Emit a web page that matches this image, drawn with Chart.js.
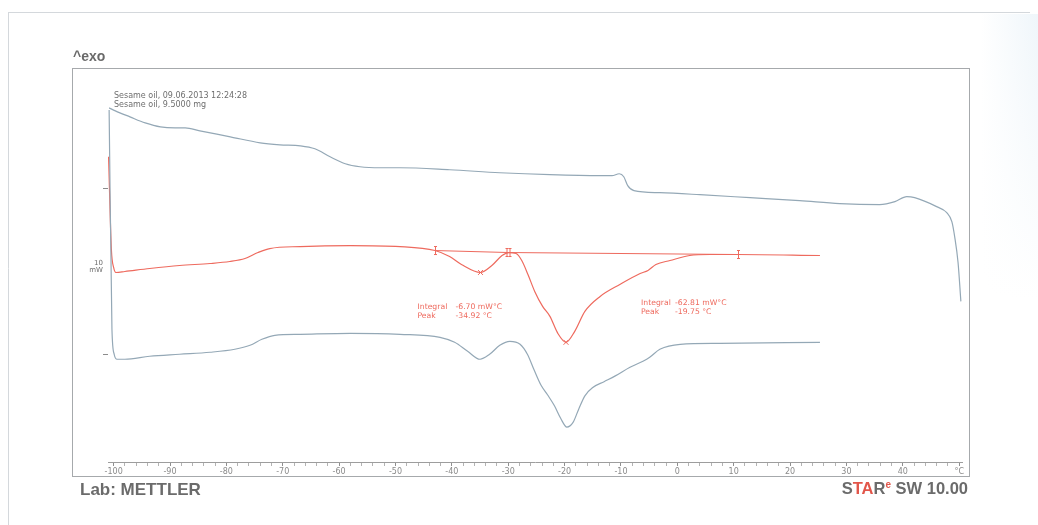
<!DOCTYPE html>
<html>
<head>
<meta charset="utf-8">
<script src="https://cdn.jsdelivr.net/npm/chart.js@4.4.1/dist/chart.umd.min.js"></script>
<style>
  html, body { margin: 0; padding: 0; background: #ffffff; overflow: hidden; }
  canvas { display: block; }
</style>
</head>
<body>
<canvas id="dsc" width="1038" height="525"></canvas>
<script>
// DSC run of sesame oil: temperature in °C, heat flow in mW (curves offset for display)

// upper trace
const upperTemp = [-100.8, -99.7, -97.1, -94.4, -91.7, -89.1, -87.3, -84.7, -79.3, -74.0, -70.5, -66.9, -64.3, -61.6, -58.9, -56.3, -52.7, -49.2, -40.4, -31.5, -22.6, -13.7, -11.6, -10.3, -9.5, -8.8, -7.7, -3.1, 4.0, 12.9, 21.7, 28.8, 35.9, 38.6, 40.7, 42.1, 46.0, 47.8, 48.7, 49.2, 49.8, 50.3];
const upperFlow = [21.42, 21.24, 20.88, 20.52, 20.28, 20.22, 20.22, 20.04, 19.68, 19.32, 19.2, 19.14, 18.96, 18.48, 18.06, 17.88, 17.82, 17.82, 17.7, 17.52, 17.4, 17.34, 17.34, 17.46, 17.28, 16.74, 16.44, 16.32, 16.2, 16.02, 15.84, 15.66, 15.6, 15.78, 16.08, 16.02, 15.48, 15.12, 14.58, 13.68, 12.12, 9.78];

// evaluated trace (red)
const evalTemp = [-100.9, -100.4, -100.0, -99.6, -98.0, -93.6, -88.3, -82.9, -79.4, -76.7, -74.4, -72.3, -66.9, -58.0, -49.2, -43.0, -40.4, -38.3, -34.92, -32.9, -31.1, -29.9, -28.6, -27.6, -26.5, -25.3, -23.9, -22.6, -21.2, -19.75, -18.2, -16.4, -13.7, -10.2, -6.6, -5.2, -3.8, -1.3, 2.2, 5.8, 10.7, 25.3];
const evalFlow = [18.48, 12.9, 11.82, 11.52, 11.58, 11.76, 11.94, 12.06, 12.18, 12.36, 12.72, 12.96, 13.08, 13.14, 13.08, 12.84, 12.48, 12.0, 11.52, 11.94, 12.54, 12.72, 12.66, 12.24, 11.4, 10.38, 9.48, 8.88, 7.86, 7.32, 7.98, 9.18, 10.08, 10.8, 11.46, 11.64, 12.0, 12.24, 12.54, 12.6, 12.6, 12.54];

// lower trace
const lowerTemp = [-100.8, -100.3, -99.9, -99.4, -98.0, -93.6, -88.3, -82.9, -78.5, -75.8, -73.7, -71.4, -66.9, -58.0, -49.2, -42.1, -39.5, -37.2, -35.0, -33.3, -31.5, -29.7, -27.9, -26.6, -25.4, -24.2, -23.0, -21.8, -20.7, -19.6, -18.5, -17.5, -16.4, -15.0, -13.0, -11.0, -8.4, -6.1, -4.9, -3.1, 0.5, 7.5, 25.3];
const lowerFlow = [21.3, 8.1, 6.6, 6.3, 6.3, 6.48, 6.6, 6.72, 6.9, 7.14, 7.5, 7.74, 7.8, 7.86, 7.8, 7.62, 7.32, 6.78, 6.3, 6.6, 7.14, 7.38, 7.2, 6.6, 5.65, 4.75, 4.15, 3.5, 2.75, 2.22, 2.5, 3.3, 4.1, 4.6, 4.95, 5.3, 5.82, 6.18, 6.42, 6.9, 7.2, 7.26, 7.32];

// integration baselines (start, end)
const base1Temp = [-43.0, -30.0];
const base1Flow = [12.84, 12.72];
const base2Temp = [-30.0, 10.7];
const base2Flow = [12.72, 12.6];

// evaluation results
const peakTemps = [-34.92, -19.75];
const peakFlows = [11.52, 7.32];
const integrals = ['-6.70', '-62.81'];
const limitTemps = [-43.0, -30.0, -30.0, 10.7];
const limitFlows = [12.84, 12.72, 12.72, 12.6];
const limitSides = [0, -1, 1, 0];

// axis
const xMin = -101, xMax = 50.5, xStep = 2;
const xLabelEvery = 10;
const xUnitTick = 50;
const xUnitLabel = '°C';
const yMin = 0.12, yMax = 24;
const scaleBarFlows = [6.6, 16.6];
const scaleBarLabel = ['10', 'mW'];

const sampleLines = ['Sesame oil, 09.06.2013 12:24:28', 'Sesame oil, 9.5000 mg'];

const GRAY_LINE = '#94a8b6';
const RED = '#ee6a5e';
const TEXT = '#6e6e6e';

const pts = (xs, ys) => xs.map((x, i) => ({ x: x, y: ys[i] }));

const pagePlugin = {
  id: 'page',
  beforeDraw(chart) {
    const c = chart.ctx;
    c.save();
    c.fillStyle = '#ffffff';
    c.fillRect(0, 0, chart.width, chart.height);
    // faint tint along the right margin, fading downwards
    for (let x = 980; x < 1038; x++) {
      const a = 0.32 * (x - 980) / 58;
      const g = c.createLinearGradient(0, 14, 0, 300);
      g.addColorStop(0, 'rgba(205,226,240,' + a.toFixed(3) + ')');
      g.addColorStop(1, 'rgba(205,226,240,0)');
      c.fillStyle = g;
      c.fillRect(x, 14, 1, 286);
    }
    // sheet edges
    c.strokeStyle = '#d4d8dc';
    c.lineWidth = 1;
    c.beginPath();
    c.moveTo(8, 12.5); c.lineTo(1030, 12.5);
    c.moveTo(8.5, 12); c.lineTo(8.5, 525);
    c.stroke();
    // plot frame
    c.strokeStyle = '#a6a9ac';
    c.strokeRect(72.5, 68.5, 897, 408);
    c.restore();
  },
  afterDraw(chart) {
    const c = chart.ctx;
    const xs = chart.scales.x, ys = chart.scales.y;
    c.save();
    c.textBaseline = 'middle';

    c.fillStyle = '#6a6a6a';
    c.font = 'bold 14px "Liberation Sans", Arial, sans-serif';
    c.textAlign = 'left';
    c.fillText('^exo', 73, 57);

    c.fillStyle = TEXT;
    c.font = '8px "DejaVu Sans", sans-serif';
    c.fillText(sampleLines[0], 114, 96);
    c.fillText(sampleLines[1], 114, 104.5);

    // 10 mW scale bar
    c.strokeStyle = '#8c8c8c';
    c.lineWidth = 1;
    c.beginPath();
    scaleBarFlows.forEach(v => {
      const py = Math.round(ys.getPixelForValue(v)) + 0.5;
      c.moveTo(103, py); c.lineTo(108, py);
    });
    c.stroke();
    const mid = (ys.getPixelForValue(scaleBarFlows[0]) + ys.getPixelForValue(scaleBarFlows[1])) / 2;
    c.font = '7px "DejaVu Sans", sans-serif';
    c.textAlign = 'right';
    c.fillStyle = TEXT;
    c.fillText(scaleBarLabel[0], 103, mid - 8);
    c.fillText(scaleBarLabel[1], 103, mid - 1);

    // integration limit markers
    c.strokeStyle = RED;
    c.lineWidth = 1;
    limitTemps.forEach((t, i) => {
      const px = Math.round(xs.getPixelForValue(t)) + 0.5 + limitSides[i] * 1.5;
      const py = ys.getPixelForValue(limitFlows[i]);
      c.beginPath();
      c.moveTo(px, py - 4); c.lineTo(px, py + 4);
      c.moveTo(px - 1.5, py - 4); c.lineTo(px + 1.5, py - 4);
      c.moveTo(px - 1.5, py + 4); c.lineTo(px + 1.5, py + 4);
      c.stroke();
    });

    // evaluation results
    c.fillStyle = RED;
    c.textAlign = 'left';
    c.font = '7.7px "DejaVu Sans", sans-serif';
    const boxes = [
      { dx: -63, dy: 35, vx: 38 },
      { dx: 75, dy: -39, vx: 34 }
    ];
    peakTemps.forEach((t, i) => {
      const px = xs.getPixelForValue(t);
      const py = ys.getPixelForValue(peakFlows[i]);
      const b = boxes[i];
      const lx = px + b.dx, ly = py + b.dy;
      c.fillText('Integral', lx, ly);
      c.fillText(integrals[i] + ' mW°C', lx + b.vx, ly);
      c.fillText('Peak', lx, ly + 8.5);
      c.fillText(t.toFixed(2) + ' °C', lx + b.vx, ly + 8.5);
    });

    // footer
    c.font = 'bold 17px "Liberation Sans", Arial, sans-serif';
    c.fillStyle = '#6b6b6b';
    c.textAlign = 'left';
    c.fillText('Lab: METTLER', 80, 490);

    const parts = [
      ['S', '#6b6b6b', 16.5, 0],
      ['TA', '#e2564a', 16.5, 0],
      ['R', '#6b6b6b', 16.5, 0],
      ['e', '#e2564a', 10, -4],
      [' SW 10.00', '#6b6b6b', 16.5, 0]
    ];
    let total = 0;
    parts.forEach(p => {
      c.font = 'bold ' + p[2] + 'px "Liberation Sans", Arial, sans-serif';
      total += c.measureText(p[0]).width;
    });
    let x = 968 - total;
    parts.forEach(p => {
      c.font = 'bold ' + p[2] + 'px "Liberation Sans", Arial, sans-serif';
      c.fillStyle = p[1];
      c.fillText(p[0], x, 489 + p[3]);
      x += c.measureText(p[0]).width;
    });
    c.restore();
  }
};

const lineStyle = (color, width) => ({
  borderColor: color,
  borderWidth: width,
  pointRadius: 0,
  fill: false,
  cubicInterpolationMode: 'monotone'
});

new Chart(document.getElementById('dsc'), {
  type: 'line',
  data: {
    datasets: [
      Object.assign({ label: 'upper', data: pts(upperTemp, upperFlow) }, lineStyle(GRAY_LINE, 1.2)),
      Object.assign({ label: 'lower', data: pts(lowerTemp, lowerFlow) }, lineStyle(GRAY_LINE, 1.2)),
      Object.assign({ label: 'baseline 1', data: pts(base1Temp, base1Flow) }, lineStyle(RED, 1)),
      Object.assign({ label: 'baseline 2', data: pts(base2Temp, base2Flow) }, lineStyle(RED, 1)),
      Object.assign({ label: 'evaluated', data: pts(evalTemp, evalFlow) }, lineStyle(RED, 1.2)),
      {
        label: 'peaks',
        data: pts(peakTemps, peakFlows),
        showLine: false,
        pointStyle: 'crossRot',
        pointRadius: 3.5,
        pointBorderColor: RED,
        pointBorderWidth: 1,
        pointBackgroundColor: RED
      }
    ]
  },
  options: {
    responsive: false,
    animation: false,
    events: [],
    devicePixelRatio: 1,
    layout: { padding: { left: 108, right: 76, top: 65, bottom: 47.4 } },
    plugins: { legend: { display: false }, tooltip: { enabled: false } },
    scales: {
      x: {
        type: 'linear',
        min: xMin,
        max: xMax,
        border: { display: true, color: '#9d9d9d', width: 1 },
        grid: {
          display: true,
          drawOnChartArea: false,
          drawTicks: true,
          tickLength: 4,
          tickColor: (ctx) => (ctx.tick && Math.round(ctx.tick.value) % xLabelEvery === 0) ? '#8f8f8f' : '#b3b3b3'
        },
        ticks: {
          stepSize: xStep,
          includeBounds: false,
          autoSkip: false,
          maxRotation: 0,
          padding: 1,
          color: '#8a8a8a',
          font: { family: '"DejaVu Sans", sans-serif', size: 8 },
          callback: (v) => {
            const r = Math.round(v);
            if (r === xUnitTick) return xUnitLabel;
            return r % xLabelEvery === 0 ? String(r) : '';
          }
        }
      },
      y: { type: 'linear', display: false, min: yMin, max: yMax }
    }
  },
  plugins: [pagePlugin]
});
</script>
</body>
</html>
